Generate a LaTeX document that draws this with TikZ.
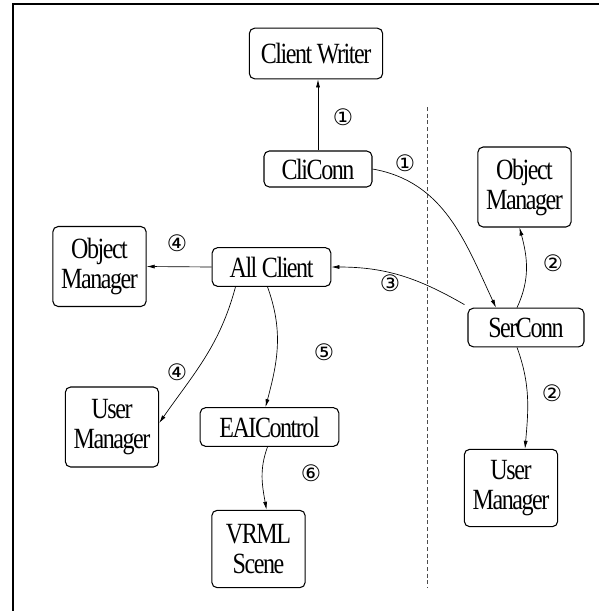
\documentclass[tikz,border=0pt]{standalone}
\usepackage{fontspec}
\setmainfont[FakeStretch=0.82,LetterSpace=-5]{Liberation Serif}
\newfontfamily\cifras{DejaVu Sans}
\usetikzlibrary{arrows.meta,calc}

\begin{document}
\begin{tikzpicture}[
        x=0.75pt, y=0.75pt,
        modulo/.style={draw, rounded corners=4pt, line width=0.8pt, align=center, inner sep=1pt, font=\rmfamily\fontsize{22}{22.5}\selectfont, minimum height=29pt},
        gestor/.style={modulo, minimum width=70pt, minimum height=60pt},
        flecha/.style={-{Latex[length=6pt,width=3pt]}, line width=0.5pt},
        num/.style={font=\cifras\fontsize{17}{17}\selectfont, inner sep=0pt}
    ]
        \useasboundingbox (0,0) rectangle (599,-611);
        \draw[line width=1.5pt] (13,-611) -- (13,-4) -- (599,-4);
        \draw[dashed, dash pattern=on 3pt off 2pt, gray!60!black, line width=0.6pt] (427,-107) -- (427,-588);

        \node[modulo, minimum width=100pt, minimum height=38pt] (cw) at (316,-53.5) {Client Writer};
        \node[modulo, minimum width=81pt, minimum height=27pt] (cc) at (318,-169) {CliConn};
        \node[modulo, minimum width=89pt] (ac) at (271.5,-267) {All Client};
        \node[modulo, minimum width=87pt] (sc) at (526,-327.5) {SerConn};
        \node[modulo, minimum width=104pt] (eai) at (269.5,-427) {EAIControl};
        \node[gestor] (omL) at (99.5,-266.5) {Object\\Manager};
        \node[gestor] (omR) at (524.5,-187) {Object\\Manager};
        \node[gestor] (umL) at (112,-427) {User\\Manager};
        \node[gestor, minimum height=58pt] (umR) at (511,-488) {User\\Manager};
        \node[gestor, minimum height=58pt] (vrml) at (258.5,-549) {VRML\\Scene};

        \node[num] (n1a) at (343,-117) {①};
        \node[num] (n1b) at (405,-163) {①};
        \node[num] (n2a) at (553,-263) {②};
        \node[num] (n2b) at (552,-393) {②};
        \node[num] (n3) at (390,-283) {③};
        \node[num] (n4a) at (177,-243) {④};
        \node[num] (n4b) at (177,-372) {④};
        \node[num] (n5) at (324,-352) {⑤};
        \node[num] (n6) at (311,-473) {⑥};

        \draw[flecha] (cc.north) -- (cc.north |- cw.south);
        \draw[flecha] (cc.east) to[out=-10, in=115] ($(sc.north)+(-30,0)$);
        \draw[flecha] ($(sc.north west)+(-3,3)$) to[out=150, in=0] (ac.east);
        \draw[flecha] ($(sc.north)+(-9,0)$) to[out=65, in=-75] ($(omR.south)+(-5,0)$);
        \draw[flecha] ($(sc.south)+(-9,0)$) to[out=-70, in=85] ($(umR.north)+(14,0)$);
        \draw[flecha] (ac.west) -- (omL.east);
        \draw[flecha] ($(ac.south)+(-36,0)$) to[out=-105, in=55] ($(umL.east)+(0,4)$);
        \draw[flecha] ($(ac.south)+(-4,0)$) to[out=-70, in=75] ($(eai.north)+(-4,0)$);
        \draw[flecha] ($(eai.south)+(-2,0)$) to[out=-110, in=100] ($(vrml.north)+(8,0)$);
    \end{tikzpicture}
\end{document}
